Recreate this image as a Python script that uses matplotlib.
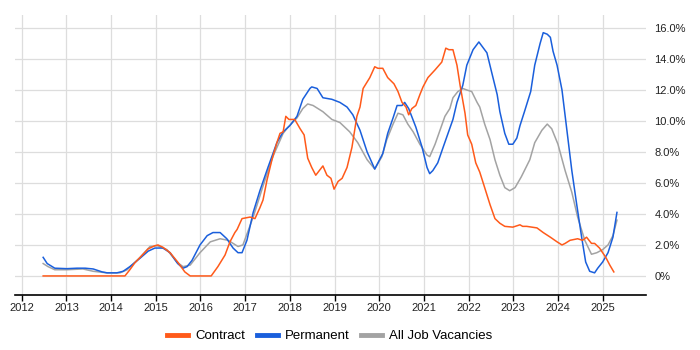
import matplotlib

matplotlib.use('Agg')
import matplotlib.pyplot as plt
from matplotlib.lines import Line2D
from matplotlib.ticker import FuncFormatter

plt.rcParams['font.family'] = ['Liberation Sans', 'DejaVu Sans']

# decimal years and percentage values
contract_x = [2012.48, 2014.31, 2014.42, 2014.53, 2014.65, 2014.83, 2014.98, 2015.05, 2015.16, 2015.32,
              2015.49, 2015.65, 2015.77, 2016.24, 2016.39, 2016.55, 2016.66, 2016.77, 2016.82, 2016.93,
              2017.11, 2017.22, 2017.33, 2017.40, 2017.49, 2017.60, 2017.71, 2017.78, 2017.85, 2017.91,
              2017.98, 2018.11, 2018.23, 2018.32, 2018.40, 2018.49, 2018.58, 2018.74, 2018.83, 2018.92,
              2018.99, 2019.08, 2019.17, 2019.28, 2019.39, 2019.50, 2019.57, 2019.64, 2019.79, 2019.90,
              2019.97, 2020.08, 2020.19, 2020.33, 2020.42, 2020.51, 2020.60, 2020.66, 2020.73, 2020.82,
              2020.91, 2020.98, 2021.09, 2021.25, 2021.40, 2021.49, 2021.56, 2021.65, 2021.74, 2021.81,
              2021.92, 2021.98, 2022.07, 2022.16, 2022.25, 2022.36, 2022.48, 2022.59, 2022.70, 2022.81,
              2022.99, 2023.15, 2023.21, 2023.30, 2023.53, 2023.67, 2023.83, 2023.98, 2024.09, 2024.16,
              2024.27, 2024.44, 2024.55, 2024.64, 2024.75, 2024.82, 2024.93, 2025.07, 2025.16, 2025.25]
contract_y = [0, 0, 0.4, 0.84, 1.2, 1.75, 1.95, 2.0, 1.85, 1.5,
              0.9, 0.26, 0, 0, 0.6, 1.35, 2.2, 2.8, 3.0, 3.7,
              3.8, 3.7, 4.4, 4.9, 6.2, 7.5, 8.6, 9.2, 9.3, 10.3,
              10.1, 10.1, 9.5, 9.1, 7.6, 7.0, 6.5, 7.1, 6.5, 6.3,
              5.6, 6.1, 6.3, 7.0, 8.3, 10.3, 10.9, 12.1, 12.8, 13.5,
              13.4, 13.4, 12.8, 12.4, 11.9, 11.2, 10.9, 10.4, 10.8, 11.0,
              11.7, 12.2, 12.8, 13.3, 13.8, 14.7, 14.6, 14.6, 13.6, 12.3,
              10.5, 9.1, 8.5, 7.3, 6.7, 5.7, 4.6, 3.7, 3.4, 3.2,
              3.15, 3.3, 3.2, 3.2, 3.1, 2.8, 2.5, 2.2, 2.0, 2.1,
              2.3, 2.4, 2.3, 2.5, 2.1, 2.1, 1.8, 1.2, 0.7, 0.26]

perm_x = [2012.48, 2012.57, 2012.74, 2013.01, 2013.24, 2013.42, 2013.60, 2013.80, 2013.91, 2014.13,
          2014.27, 2014.42, 2014.65, 2014.83, 2014.98, 2015.16, 2015.32, 2015.49, 2015.61, 2015.70,
          2015.81, 2015.99, 2016.15, 2016.28, 2016.44, 2016.59, 2016.73, 2016.84, 2016.93, 2017.04,
          2017.18, 2017.33, 2017.51, 2017.71, 2017.85, 2018.00, 2018.16, 2018.29, 2018.45, 2018.49,
          2018.61, 2018.74, 2018.94, 2019.12, 2019.28, 2019.41, 2019.57, 2019.73, 2019.90, 2020.08,
          2020.19, 2020.31, 2020.40, 2020.51, 2020.57, 2020.66, 2020.82, 2020.96, 2021.07, 2021.13,
          2021.20, 2021.31, 2021.43, 2021.54, 2021.65, 2021.74, 2021.87, 2021.96, 2022.10, 2022.23,
          2022.41, 2022.52, 2022.64, 2022.70, 2022.81, 2022.90, 2022.99, 2023.08, 2023.15, 2023.25,
          2023.39, 2023.48, 2023.60, 2023.67, 2023.76, 2023.83, 2023.89, 2023.98, 2024.09, 2024.20,
          2024.31, 2024.42, 2024.53, 2024.62, 2024.71, 2024.82, 2024.89, 2025.00, 2025.12, 2025.23,
          2025.32]
perm_y = [1.2, 0.8, 0.5, 0.47, 0.5, 0.5, 0.45, 0.26, 0.2, 0.2,
          0.3, 0.6, 1.15, 1.6, 1.8, 1.8, 1.5, 0.8, 0.5, 0.6,
          1.0, 2.0, 2.6, 2.8, 2.8, 2.4, 1.8, 1.5, 1.5, 2.3,
          4.1, 5.5, 7.0, 8.6, 9.3, 9.7, 10.3, 11.4, 12.1, 12.2,
          12.1, 11.5, 11.4, 11.2, 10.9, 10.4, 9.4, 8.0, 6.9, 7.9,
          9.2, 10.2, 11.0, 11.0, 11.2, 10.8, 9.6, 8.3, 7.0, 6.6,
          6.8, 7.3, 8.3, 9.2, 10.1, 11.2, 12.3, 13.6, 14.6, 15.1,
          14.4, 13.1, 11.7, 10.6, 9.2, 8.5, 8.5, 8.9, 9.7, 10.6,
          11.9, 13.6, 15.0, 15.7, 15.6, 15.4, 14.5, 13.6, 12.0, 9.4,
          6.8, 4.6, 2.5, 0.9, 0.3, 0.2, 0.5, 0.9, 1.5, 2.5,
          4.1]

all_x = [2012.48, 2012.59, 2012.74, 2013.01, 2013.37, 2013.60, 2013.91, 2014.20, 2014.36, 2014.65,
         2014.87, 2015.03, 2015.25, 2015.47, 2015.61, 2015.77, 2015.99, 2016.22, 2016.44, 2016.62,
         2016.84, 2016.95, 2017.18, 2017.40, 2017.62, 2017.85, 2017.96, 2018.16, 2018.29, 2018.40,
         2018.52, 2018.74, 2018.94, 2019.12, 2019.34, 2019.52, 2019.73, 2019.90, 2020.06, 2020.17,
         2020.31, 2020.42, 2020.53, 2020.64, 2020.76, 2020.91, 2021.07, 2021.13, 2021.25, 2021.36,
         2021.47, 2021.58, 2021.65, 2021.76, 2021.87, 2021.96, 2022.07, 2022.19, 2022.25, 2022.36,
         2022.48, 2022.59, 2022.70, 2022.81, 2022.92, 2023.04, 2023.18, 2023.37, 2023.48, 2023.64,
         2023.76, 2023.86, 2024.00, 2024.16, 2024.31, 2024.44, 2024.60, 2024.75, 2024.87, 2025.00,
         2025.12, 2025.23, 2025.32]
all_y = [0.8, 0.6, 0.4, 0.4, 0.45, 0.3, 0.2, 0.2, 0.4, 1.2,
         1.9, 1.95, 1.7, 0.9, 0.6, 0.7, 1.5, 2.2, 2.4, 2.3,
         1.9, 2.0, 3.8, 5.8, 7.7, 9.2, 9.6, 10.2, 10.8, 11.1,
         11.0, 10.6, 10.1, 9.9, 9.3, 8.6, 7.5, 6.9, 7.7, 8.8,
         9.8, 10.5, 10.4, 9.8, 9.3, 8.5, 7.8, 7.7, 8.5, 9.4,
         10.3, 10.8, 11.5, 11.9, 12.1, 12.0, 11.9, 11.2, 10.9, 9.8,
         8.8, 7.5, 6.5, 5.7, 5.5, 5.7, 6.4, 7.5, 8.6, 9.4,
         9.8, 9.5, 8.5, 6.8, 5.4, 3.8, 2.3, 1.4, 1.5, 1.7,
         2.0, 2.6, 3.6]

years = list(range(2012, 2026))
labels = ['Contract', 'Permanent', 'All Job Vacancies']
colors = ['#ff5a1a', '#1a5fdc', '#a3a3a3']

fig = plt.figure(figsize=(7, 3.5), dpi=100)
ax = fig.add_axes([15 / 700, 1 - 295 / 350, 631 / 700, 280 / 350])

ax.plot(all_x, all_y, color=colors[2], lw=1.1)
ax.plot(perm_x, perm_y, color=colors[1], lw=1.1)
ax.plot(contract_x, contract_y, color=colors[0], lw=1.1)

ax.set_xlim(2011.85, 2025.97)
ax.set_ylim(-1.23, 16.84)
ax.set_xticks(years)
ax.set_yticks(range(0, 17, 2))
ax.yaxis.set_major_formatter(FuncFormatter(lambda v, p: '0%' if v == 0 else '%.1f%%' % v))
ax.yaxis.tick_right()
ax.tick_params(axis='y', length=0, pad=6, labelsize=8, labelcolor='#222222')
ax.tick_params(axis='x', length=4, width=1, pad=2, labelsize=8, labelcolor='#222222')
ax.grid(True, color='#dddddd', lw=0.9)
ax.set_axisbelow(True)
for s in ['top', 'left', 'right']:
    ax.spines[s].set_visible(False)
ax.spines['bottom'].set_color('black')
ax.spines['bottom'].set_linewidth(1.2)

handles = [Line2D([], [], color=c, lw=3.5) for c in colors]
fig.legend(handles, labels, loc='center', bbox_to_anchor=(0.471, 0.04), ncol=3, frameon=False,
           fontsize=9.5, handlelength=1.6, handletextpad=0.5, columnspacing=0.9)

plt.savefig('out.png')
plt.close()
